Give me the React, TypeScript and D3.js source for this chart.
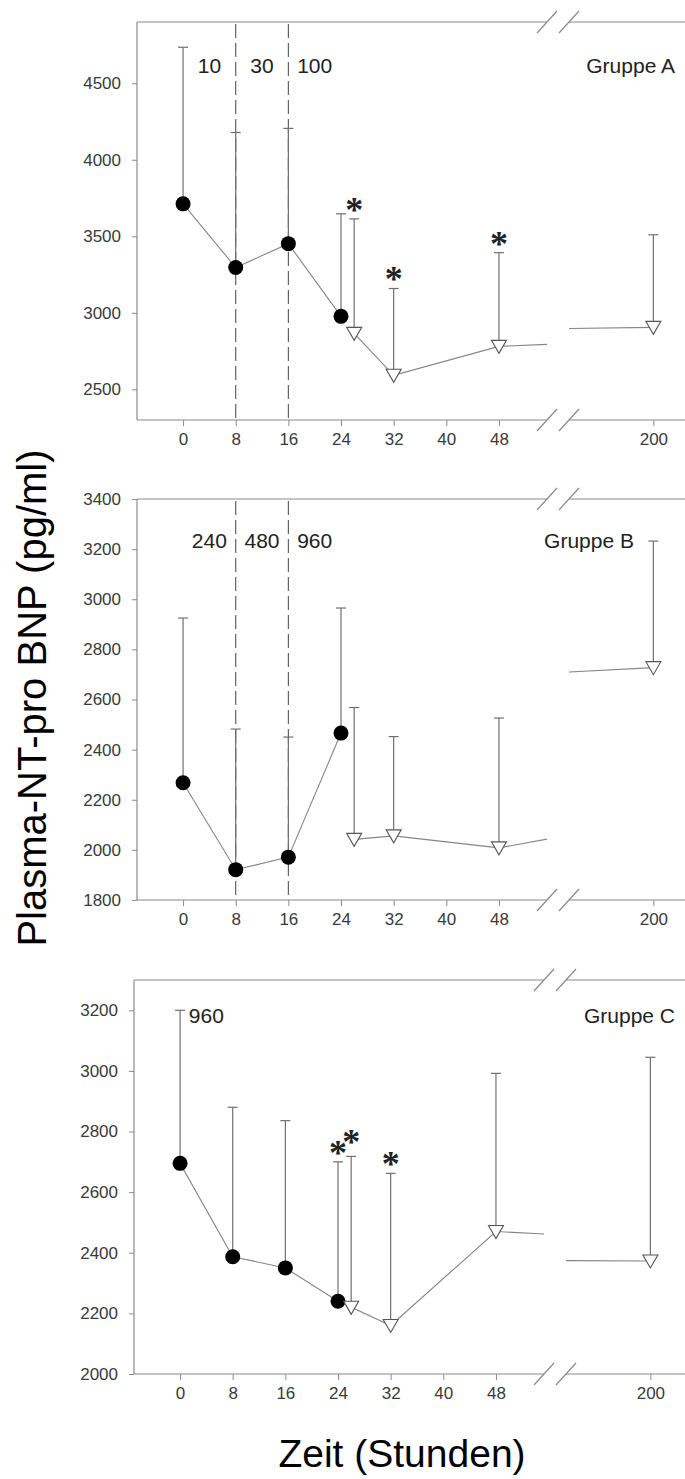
import * as d3 from "d3";
import { useEffect, useRef } from "react";

const W = 685;
const H = 1479;

// time points (hours)
const filledTimes = [0, 8, 16, 24];
const openTimes = [26, 32, 48];
const lateTime = 200;
const xTicksLeft = [0, 8, 16, 24, 32, 40, 48];
const xTicksRight = [200];

// Gruppe A
const aFilledMean = [3712, 3296, 3452, 2977];
const aFilledUpper = [4735, 4178, 4205, 3647];
const aOpenMean = [2866, 2592, 2781];
const aOpenUpper = [3614, 3159, 3393];
const aBreakLeft = 2794;
const aBreakRight = 2898;
const aLateMean = 2905;
const aLateUpper = 3510;
const aTicks = [2500, 3000, 3500, 4000, 4500];
const aDoses = ["10", "30", "100"];

// Gruppe B
const bFilledMean = [2268, 1921, 1971, 2466];
const bFilledUpper = [2925, 2482, 2450, 2965];
const bOpenMean = [2042, 2056, 2008];
const bOpenUpper = [2568, 2452, 2526];
const bBreakLeft = 2043;
const bBreakRight = 2710;
const bLateMean = 2727;
const bLateUpper = 3232;
const bTicks = [1800, 2000, 2200, 2400, 2600, 2800, 3000, 3200, 3400];
const bDoses = ["240", "480", "960"];

// Gruppe C
const cFilledMean = [2695, 2387, 2350, 2240];
const cFilledUpper = [3200, 2880, 2836, 2700];
const cOpenMean = [2220, 2160, 2470];
const cOpenUpper = [2718, 2662, 2992];
const cBreakLeft = 2462;
const cBreakRight = 2374;
const cLateMean = 2373;
const cLateUpper = 3045;
const cTicks = [2000, 2200, 2400, 2600, 2800, 3000, 3200];
const cDoses = ["960"];

const doseStarts = [0, 8, 16];

const panels = [
  {
    name: "Gruppe A", top: 22, bottom: 420, dx: 0, yDomain: [2300, 4900], yTicks: aTicks,
    filledMean: aFilledMean, filledUpper: aFilledUpper, openMean: aOpenMean, openUpper: aOpenUpper,
    breakLeft: aBreakLeft, breakRight: aBreakRight, lateMean: aLateMean, lateUpper: aLateUpper,
    doses: aDoses, dashed: [8, 16], labelY: 65, groupX: 675,
    stars: [{ s: "open", i: 0 }, { s: "open", i: 1 }, { s: "open", i: 2 }],
  },
  {
    name: "Gruppe B", top: 499, bottom: 900, dx: 0, yDomain: [1800, 3400], yTicks: bTicks,
    filledMean: bFilledMean, filledUpper: bFilledUpper, openMean: bOpenMean, openUpper: bOpenUpper,
    breakLeft: bBreakLeft, breakRight: bBreakRight, lateMean: bLateMean, lateUpper: bLateUpper,
    doses: bDoses, dashed: [8, 16], labelY: 540, groupX: 634,
    stars: [],
  },
  {
    name: "Gruppe C", top: 980, bottom: 1374, dx: -3, yDomain: [2000, 3300], yTicks: cTicks,
    filledMean: cFilledMean, filledUpper: cFilledUpper, openMean: cOpenMean, openUpper: cOpenUpper,
    breakLeft: cBreakLeft, breakRight: cBreakRight, lateMean: cLateMean, lateUpper: cLateUpper,
    doses: cDoses, dashed: [], labelY: 1015, groupX: 675,
    stars: [{ s: "filled", i: 3 }, { s: "open", i: 0 }, { s: "open", i: 1 }],
  },
];

const FRAME = "#8a8a8a";
const BAR = "#707070";
const LINE = "#858585";

function drawPanel(svg, p) {
  const left = 137 + p.dx;
  const breakL = 547 + p.dx;
  const breakR = 569 + p.dx;
  const right = W + p.dx;

  const xL = d3.scaleLinear().domain([-7, 55.3]).range([left, breakL]);
  const xR = d3.scaleLinear().domain([180, 207.5]).range([breakR, right]);
  const y = d3.scaleLinear().domain(p.yDomain).range([p.bottom, p.top]);

  const g = svg.append("g").attr("font-family", "'Liberation Sans', Arial, sans-serif");

  // frame with axis break
  const frame = g.append("g").attr("stroke", FRAME).attr("stroke-width", 1.2).attr("fill", "none");
  frame.append("line").attr("x1", left).attr("x2", left).attr("y1", p.top).attr("y2", p.bottom);
  [p.top, p.bottom].forEach((yy) => {
    frame.append("line").attr("x1", left).attr("x2", breakL).attr("y1", yy).attr("y2", yy);
    frame.append("line").attr("x1", breakR).attr("x2", W).attr("y1", yy).attr("y2", yy);
    [breakL, breakR].forEach((bx) => {
      frame.append("line")
        .attr("x1", bx - 10).attr("y1", yy + 11)
        .attr("x2", bx + 10).attr("y2", yy - 11);
    });
  });

  // y axis
  const yAxis = g.append("g")
    .attr("transform", `translate(${left},0)`)
    .call(d3.axisLeft(y).tickValues(p.yTicks).tickSize(5).tickPadding(11).tickFormat(d3.format("d")));
  yAxis.select(".domain").remove();
  yAxis.selectAll("line").attr("stroke", FRAME);
  yAxis.selectAll("text").attr("font-size", 17).attr("fill", "#3a3a3a").attr("font-family", "'Liberation Sans', Arial, sans-serif");

  // x axis (two segments)
  [[xL, xTicksLeft], [xR, xTicksRight]].forEach(([sc, tv]) => {
    const xa = g.append("g")
      .attr("transform", `translate(0,${p.bottom})`)
      .call(d3.axisBottom(sc).tickValues(tv).tickSize(6).tickPadding(7));
    xa.select(".domain").remove();
    xa.selectAll("line").attr("stroke", FRAME);
    xa.selectAll("text").attr("font-size", 17).attr("fill", "#3a3a3a").attr("font-family", "'Liberation Sans', Arial, sans-serif");
  });

  // dashed dose change lines
  p.dashed.forEach((t) => {
    g.append("line")
      .attr("x1", xL(t)).attr("x2", xL(t))
      .attr("y1", p.top + 2).attr("y2", p.bottom)
      .attr("stroke", "#555").attr("stroke-width", 1.1)
      .attr("stroke-dasharray", "14,5");
  });

  // dose labels centered in each 8 h interval
  p.doses.forEach((d, i) => {
    g.append("text")
      .attr("x", xL(doseStarts[i] + 4)).attr("y", p.labelY)
      .attr("dy", "0.36em").attr("text-anchor", "middle")
      .attr("font-size", 21).attr("fill", "#222").text(d);
  });
  g.append("text")
    .attr("x", p.groupX).attr("y", p.labelY)
    .attr("dy", "0.36em").attr("text-anchor", "end")
    .attr("font-size", 21).attr("fill", "#222").text(p.name);

  const filled = filledTimes.map((t, i) => ({ x: xL(t), m: p.filledMean[i], u: p.filledUpper[i] }));
  const open = openTimes.map((t, i) => ({ x: xL(t), m: p.openMean[i], u: p.openUpper[i] }));
  const late = [{ x: xR(lateTime), m: p.lateMean, u: p.lateUpper }];
  const all = [...filled, ...open, ...late];

  // upper error bars
  const bars = g.append("g").attr("stroke", BAR).attr("stroke-width", 1.2);
  all.forEach((d) => {
    bars.append("line").attr("x1", d.x).attr("x2", d.x).attr("y1", y(d.m)).attr("y2", y(d.u));
    bars.append("line").attr("x1", d.x - 5).attr("x2", d.x + 5).attr("y1", y(d.u)).attr("y2", y(d.u));
  });

  // connecting lines
  const line = d3.line();
  const lines = g.append("g").attr("stroke", LINE).attr("stroke-width", 1.1).attr("fill", "none");
  lines.append("path").attr("d", line(filled.map((d) => [d.x, y(d.m)])));
  lines.append("path").attr("d", line([...open.map((d) => [d.x, y(d.m)]), [breakL, y(p.breakLeft)]]));
  lines.append("path").attr("d", line([[breakR, y(p.breakRight)], ...late.map((d) => [d.x, y(d.m)])]));

  // markers
  g.append("g").selectAll("circle").data(filled).join("circle")
    .attr("cx", (d) => d.x).attr("cy", (d) => y(d.m)).attr("r", 7.5).attr("fill", "#000");
  g.append("g").selectAll("path").data([...open, ...late]).join("path")
    .attr("d", "M-7.5,-6L7.5,-6L0,7Z")
    .attr("transform", (d) => `translate(${d.x},${y(d.m)})`)
    .attr("fill", "#fff").attr("stroke", "#555").attr("stroke-width", 1.1);

  // significance stars (a star next to a close neighbour is lifted so they stagger)
  let prev = null;
  p.stars.forEach((st) => {
    const d = st.s === "filled" ? filled[st.i] : open[st.i];
    const fs = 36;
    let cy = y(d.u) - 14;
    if (prev && Math.abs(d.x - prev.x) < 20) cy = Math.min(cy, prev.cy - 11);
    prev = { x: d.x, cy };
    g.append("text")
      .attr("x", d.x).attr("y", cy + fs * 0.47)
      .attr("text-anchor", "middle")
      .attr("font-family", "'Liberation Serif', 'Times New Roman', serif")
      .attr("font-weight", "bold")
      .attr("font-size", fs).attr("fill", "#222").text("*");
  });
}

export default function App() {
  const svgRef = useRef(null);

  useEffect(() => {
    const svg = d3.select(svgRef.current);
    svg.selectAll("*").remove();

    panels.forEach((p) => drawPanel(svg, p));

    svg.append("text")
      .attr("transform", "translate(46,698) rotate(-90)")
      .attr("text-anchor", "middle")
      .attr("font-family", "'Liberation Sans', Arial, sans-serif")
      .attr("font-size", 40).attr("fill", "#000")
      .text("Plasma-NT-pro BNP (pg/ml)");

    svg.append("text")
      .attr("x", 402).attr("y", 1467)
      .attr("text-anchor", "middle")
      .attr("font-family", "'Liberation Sans', Arial, sans-serif")
      .attr("font-size", 39).attr("fill", "#000")
      .text("Zeit (Stunden)");
  }, []);

  return (
    <svg
      ref={svgRef}
      width={W}
      height={H}
      style={{ position: "absolute", left: 0, top: 0, background: "#fff", display: "block" }}
    />
  );
}
